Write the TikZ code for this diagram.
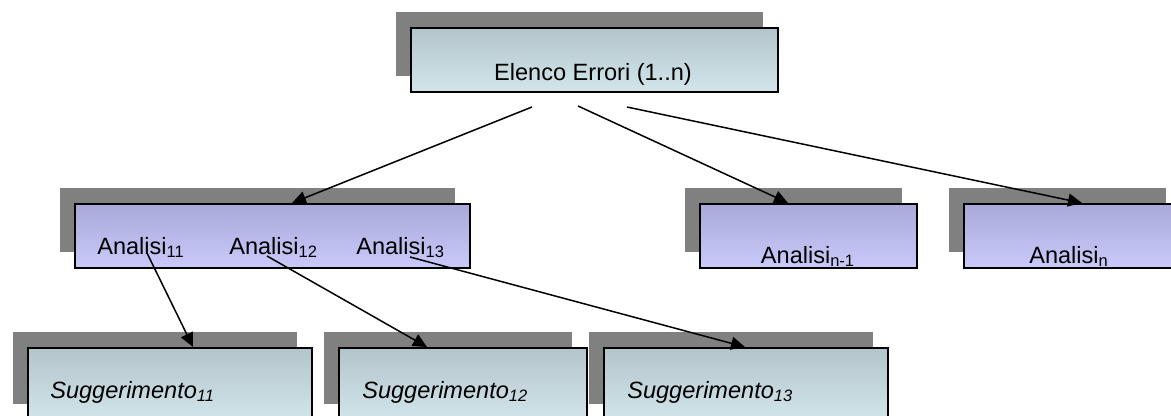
\documentclass[tikz,border=0pt]{standalone}
\usepackage{fontspec}
\setmainfont{Liberation Sans}
\usetikzlibrary{shadows,calc,arrows.meta}

\definecolor{ombra}{HTML}{808080}
\definecolor{grigtop}{HTML}{B3C5CA}
\definecolor{grigbot}{HTML}{D2E5EB}
\definecolor{viotop}{HTML}{A8A8D9}
\definecolor{viobot}{HTML}{CACAFA}

\tikzset{
  box/.style={draw=black, line width=1.1pt, rectangle, inner sep=0pt, anchor=north west,
    drop shadow={shadow xshift=-0.3cm, shadow yshift=0.32cm, fill=ombra, opacity=1, draw=none}},
  errbox/.style={box, top color=grigtop, bottom color=grigbot, minimum width=7.34cm, minimum height=1.28cm},
  anbox/.style={box, top color=viotop, bottom color=viobot, minimum height=1.28cm},
  sugbox/.style={box, top color=grigtop, bottom color=grigbot, minimum height=1.44cm},
  lab/.style={font=\fontsize{13.4}{16}\selectfont, inner sep=0pt},
  arr/.style={-{Triangle[length=0.28cm,width=0.26cm]}, line width=0.85pt}
}

\begin{document}
\begin{tikzpicture}[x=0.02cm,y=-0.02cm]
\clip (0,0) rectangle (1171,416);
% Boxes
\node[errbox] (elenco) at (410,27) {};
\node[anbox, minimum width=7.9cm] (analisi) at (74,203) {};
\node[anbox, minimum width=4.34cm] (anm) at (699,203) {};
\node[anbox, minimum width=4.34cm] (ann) at (963,203) {};
\node[sugbox, minimum width=5.68cm] (sug11) at (27,347) {};
\node[sugbox, minimum width=4.96cm] (sug12) at (338,347) {};
\node[sugbox, minimum width=5.68cm] (sug13) at (603,347) {};
% Labels
\node[lab, anchor=base] (elencolab) at (593,80) {Elenco Errori (1..n)};
\node[lab, anchor=base west] (a11) at (97,254) {Analisi\textsubscript{11}};
\node[lab, anchor=base west] (a12) at (229,254) {Analisi\textsubscript{12}};
\node[lab, anchor=base west] (a13) at (356,254) {Analisi\textsubscript{13}};
\node[lab, anchor=base] (anmlab) at (808,263) {Analisi\textsubscript{n-1}};
\node[lab, anchor=base] (annlab) at (1069,263) {Analisi\textsubscript{n}};
\node[lab, anchor=base west] (s11) at (50,398) {\itshape Suggerimento\textsubscript{11}};
\node[lab, anchor=base west] (s12) at (362,398) {\itshape Suggerimento\textsubscript{12}};
\node[lab, anchor=base west] (s13) at (627,398) {\itshape Suggerimento\textsubscript{13}};
% Start points
\coordinate (e1) at (532,107);
\coordinate (e2) at (578,106);
\coordinate (e3) at (627,107);
\coordinate (p11) at (147,253);
\coordinate (p12) at (267,256);
\coordinate (p13) at (410,257);
% Arrows
\draw[arr] (e1) -- ($(analisi.north west)+(218,0)$);
\draw[arr] (e2) -- ($(anm.north west)+(89,0)$);
\draw[arr] (e3) -- ($(ann.north west)+(119,0)$);
\draw[arr] (p11) -- ($(sug11.north west)+(166,0)$);
\draw[arr] (p12) -- ($(sug12.north west)+(89,0)$);
\draw[arr] (p13) -- ($(sug13.north west)+(142,0)$);
\end{tikzpicture}
\end{document}
